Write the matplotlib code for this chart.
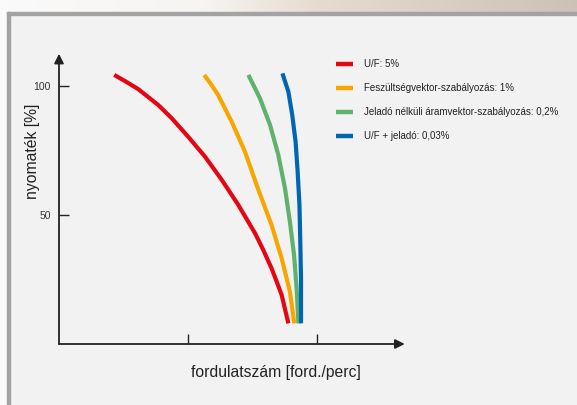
import numpy as np
from matplotlib import pyplot as plt
from matplotlib.lines import Line2D
from matplotlib.patches import Rectangle

plt.rcParams['font.family'] = ['Liberation Sans', 'DejaVu Sans']

# torque-speed curves (speed, torque %)
red_x = [21.4, 25.6, 30.7, 38.5, 43.7, 50.1, 56.6, 63.1, 69.5, 76.0, 79.2, 82.4, 84.4, 86.3, 88.9]
red_y = [104.3, 101.9, 98.8, 92.6, 87.5, 80.3, 72.6, 63.6, 53.9, 42.9, 36.4, 29.3, 24.1, 19.0, 8.0]
orange_x = [56.3, 58.9, 61.7, 66.9, 72.1, 77.0, 82.4, 86.3, 89.5, 91.2]
orange_y = [104.3, 100.7, 96.5, 86.2, 74.5, 60.5, 46.1, 33.2, 20.3, 8.0]
green_x = [73.4, 77.9, 81.8, 85.0, 87.6, 89.5, 91.1, 92.1, 92.8]
green_y = [104.3, 95.2, 84.9, 73.3, 60.3, 47.4, 34.5, 21.6, 8.0]
blue_x = [86.6, 88.9, 90.4, 91.7, 92.5, 93.2, 93.5, 93.8, 93.8]
blue_y = [104.9, 97.8, 88.8, 78.4, 66.8, 53.9, 41.0, 25.5, 8.0]

labels = ["U/F: 5%",
          "Feszültségvektor-szabályozás: 1%",
          "Jeladó nélküli áramvektor-szabályozás: 0,2%",
          "U/F + jeladó: 0,03%"]
colors = ["#e30613", "#f7a600", "#5eb26c", "#0066b3"]
yticks = [50, 100]
xticks = [50, 100]

W, H = 577, 405
fig = plt.figure(figsize=(W / 100, H / 100), dpi=100)
fig.patch.set_facecolor("#f2f2f2")

# background: white margin, beige strip on top, grey panel border
fig.patches.append(Rectangle((0, 0), 7 / W, 1, transform=fig.transFigure,
                             color="#fafafa", zorder=0))
fig.patches.append(Rectangle((7 / W, 0), 2.5 / W, 1 - 12 / H, transform=fig.transFigure,
                             color="#a3a3a3", zorder=1))
fig.patches.append(Rectangle((7 / W, 1 - 14.5 / H), 1, 2.5 / H, transform=fig.transFigure,
                             color="#a3a3a3", zorder=1))
top = fig.add_axes([0, 1 - 12 / H, 1, 12 / H])
grad = np.linspace(0, 1, 256)
r = np.interp(grad, [0, 0.35, 0.55, 1], [0.98, 0.97, 0.90, 0.80])
g = np.interp(grad, [0, 0.35, 0.55, 1], [0.98, 0.96, 0.86, 0.76])
b = np.interp(grad, [0, 0.35, 0.55, 1], [0.98, 0.95, 0.82, 0.72])
top.imshow(np.dstack([r, g, b]), aspect="auto", extent=[0, 1, 0, 1])
top.axis("off")

# main axes, 2.58 px per unit on both axes, origin at (59, 344)
s = 2.58
ax = fig.add_axes([59 / W, (H - 344) / H, 136 * s / W, 115 * s / H])
ax.set_facecolor("none")
ax.set_xlim(0, 136)
ax.set_ylim(0, 115)
for sp in ax.spines.values():
    sp.set_visible(False)

for xs, ys, c in zip([red_x, orange_x, green_x, blue_x],
                     [red_y, orange_y, green_y, blue_y], colors):
    ax.plot(xs, ys, color=c, lw=3, solid_capstyle="butt", solid_joinstyle="round")

arrow = dict(arrowstyle="-|>", color="#222222", lw=1.3, mutation_scale=14,
             shrinkA=0, shrinkB=0)
ax.annotate("", xy=(134, 0), xytext=(0, 0), arrowprops=arrow, annotation_clip=False)
ax.annotate("", xy=(0, 112.5), xytext=(0, 0), arrowprops=arrow, annotation_clip=False)

ax.set_yticks(yticks)
ax.set_yticklabels([str(v) for v in yticks])
ax.set_xticks(xticks)
ax.set_xticklabels([])
ax.tick_params(direction="in", length=7, width=1, color="#222222",
               labelsize=7.5, labelcolor="#333333", pad=6)

fig.text(32 / W, 1 - 151 / H, "nyomaték [%]", rotation=90, ha="center", va="center",
         fontsize=11.3, color="#222222")
fig.text(276 / W, 1 - 372 / H, "fordulatszám [ford./perc]", ha="center", va="center",
         fontsize=11.3, color="#222222")

handles = [Line2D([], [], color=c, lw=3.2, solid_capstyle="butt") for c in colors]
fig.legend(handles, labels, loc="upper left", bbox_to_anchor=(336 / W, 1 - 59 / H),
           frameon=False, fontsize=7, handlelength=1.75, handletextpad=1.1,
           labelspacing=1.45, borderpad=0, borderaxespad=0, labelcolor="#222222")

fig.savefig("out.png", dpi=100, facecolor=fig.get_facecolor())
